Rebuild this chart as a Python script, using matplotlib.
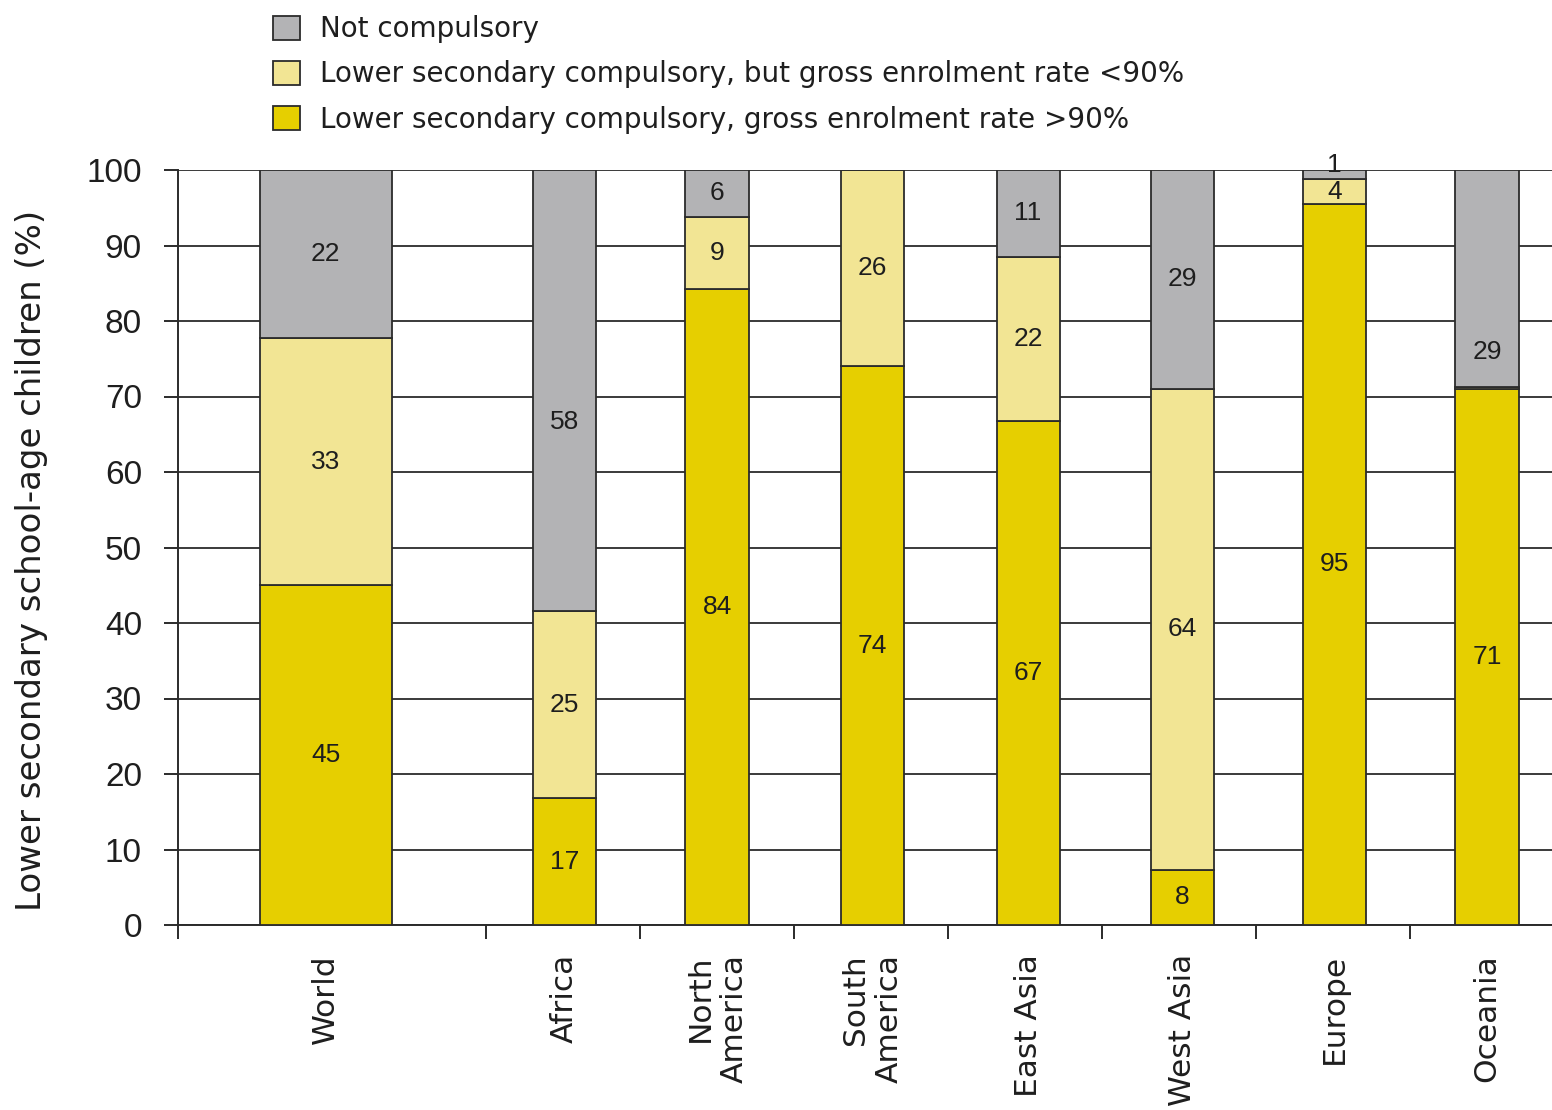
import matplotlib.pyplot as plt
import numpy as np

plt.rcParams['font.family'] = ['DejaVu Sans']

#-----------------------Data---------------------------#
regions = ['World', 'Africa', 'North\nAmerica', 'South\nAmerica', 'East Asia',
           'West Asia', 'Europe', 'Oceania']

# segment heights (%)
high_rate = [45.0, 16.8, 84.2, 74.0, 66.8, 7.3, 95.5, 71.0]
low_rate = [32.7, 24.8, 9.6, 26.0, 21.7, 63.7, 3.3, 0.3]
not_comp = [22.3, 58.4, 6.2, 0.0, 11.5, 29.0, 1.2, 28.7]

# printed labels
high_lab = ['45', '17', '84', '74', '67', '8', '95', '71']
low_lab = ['33', '25', '9', '26', '22', '64', '4', '']
not_lab = ['22', '58', '6', '', '11', '29', '1', '29']

legend_names = ['Not compulsory',
                'Lower secondary compulsory, but gross enrolment rate <90%',
                'Lower secondary compulsory, gross enrolment rate >90%']

#-----------------------Style---------------------------#
c_grey = '#b3b3b5'
c_light = '#f2e594'
c_yellow = '#e6cf00'
edge = '#2b2b2b'
txt = '#1e1e1e'

# World takes a double slot, the rest one slot each
centers = np.array([0.96, 2.51, 3.5, 4.51, 5.52, 6.52, 7.51, 8.5])
widths = np.array([0.857, 0.41, 0.41, 0.41, 0.41, 0.41, 0.41, 0.41])
bounds = [0, 2, 3, 4, 5, 6, 7, 8, 9]

# a couple of labels in the original sit below their segment centre
not_shift = {1: -4.2, 7: -9.7}

fig = plt.figure(figsize=(15.52, 11.10), dpi=100)
ax = fig.add_axes([178/1552, 185/1110, 1386/1552, 755/1110])

high_rate = np.array(high_rate)
low_rate = np.array(low_rate)
not_comp = np.array(not_comp)

ax.bar(centers, high_rate, widths, color=c_yellow, edgecolor=edge, linewidth=1.3, zorder=3,
       label=legend_names[2])
ax.bar(centers, low_rate, widths, bottom=high_rate, color=c_light, edgecolor=edge, linewidth=1.3,
       zorder=3, label=legend_names[1])
ax.bar(centers, not_comp, widths, bottom=high_rate + low_rate, color=c_grey, edgecolor=edge,
       linewidth=1.3, zorder=3, label=legend_names[0])

def put_labels(bottoms, heights, labs, shift={}):
    for i, (x, b, h, t) in enumerate(zip(centers, bottoms, heights, labs)):
        if t == '':
            continue
        if h < 2:
            y = b + h + 0.7
        else:
            y = b + h / 2 + shift.get(i, 0)
        ax.text(x, y, t, ha='center', va='center', fontsize=19, color=txt, zorder=5,
                family='Liberation Sans', clip_on=False)

put_labels(np.zeros(8), high_rate, high_lab)
put_labels(high_rate, low_rate, low_lab)
put_labels(high_rate + low_rate, not_comp, not_lab, not_shift)

ax.set_xlim(0, 9)
ax.set_ylim(0, 100)
ax.set_yticks(np.arange(0, 101, 10))
ax.set_yticklabels([str(v) for v in range(0, 101, 10)], family='Liberation Sans')
ax.yaxis.grid(True, color='#3a3a3a', linewidth=1.4, zorder=0)
ax.set_axisbelow(True)

ax.set_xticks(centers)
ax.set_xticklabels(regions, rotation=90, fontsize=22.5, ha='center', va='top',
                   multialignment='right', color=txt)
ax.set_xticks(bounds, minor=True)
ax.tick_params(axis='x', which='major', length=0, pad=21)
ax.tick_params(axis='x', which='minor', length=10, width=1.4, color=edge, direction='out')
ax.tick_params(axis='y', length=10, width=1.4, color=edge, labelsize=24, pad=16,
               labelcolor=txt)

for s in ['top', 'right']:
    ax.spines[s].set_visible(False)
for s in ['left', 'bottom']:
    ax.spines[s].set_color(edge)
    ax.spines[s].set_linewidth(1.4)

fig.text(32/1552, 1 - 560/1110, 'Lower secondary school-age children (%)', rotation=90,
         ha='center', va='center', fontsize=24.5, color=txt)

h, l = ax.get_legend_handles_labels()
fig.legend(h[::-1], l[::-1], loc='upper left', bbox_to_anchor=(262/1552, 1 - 4/1110),
           frameon=False, fontsize=20, handlelength=0.97, handleheight=0.95,
           labelspacing=0.62, handletextpad=0.7, borderaxespad=0, labelcolor=txt)

fig.savefig('out.png', dpi=100)
